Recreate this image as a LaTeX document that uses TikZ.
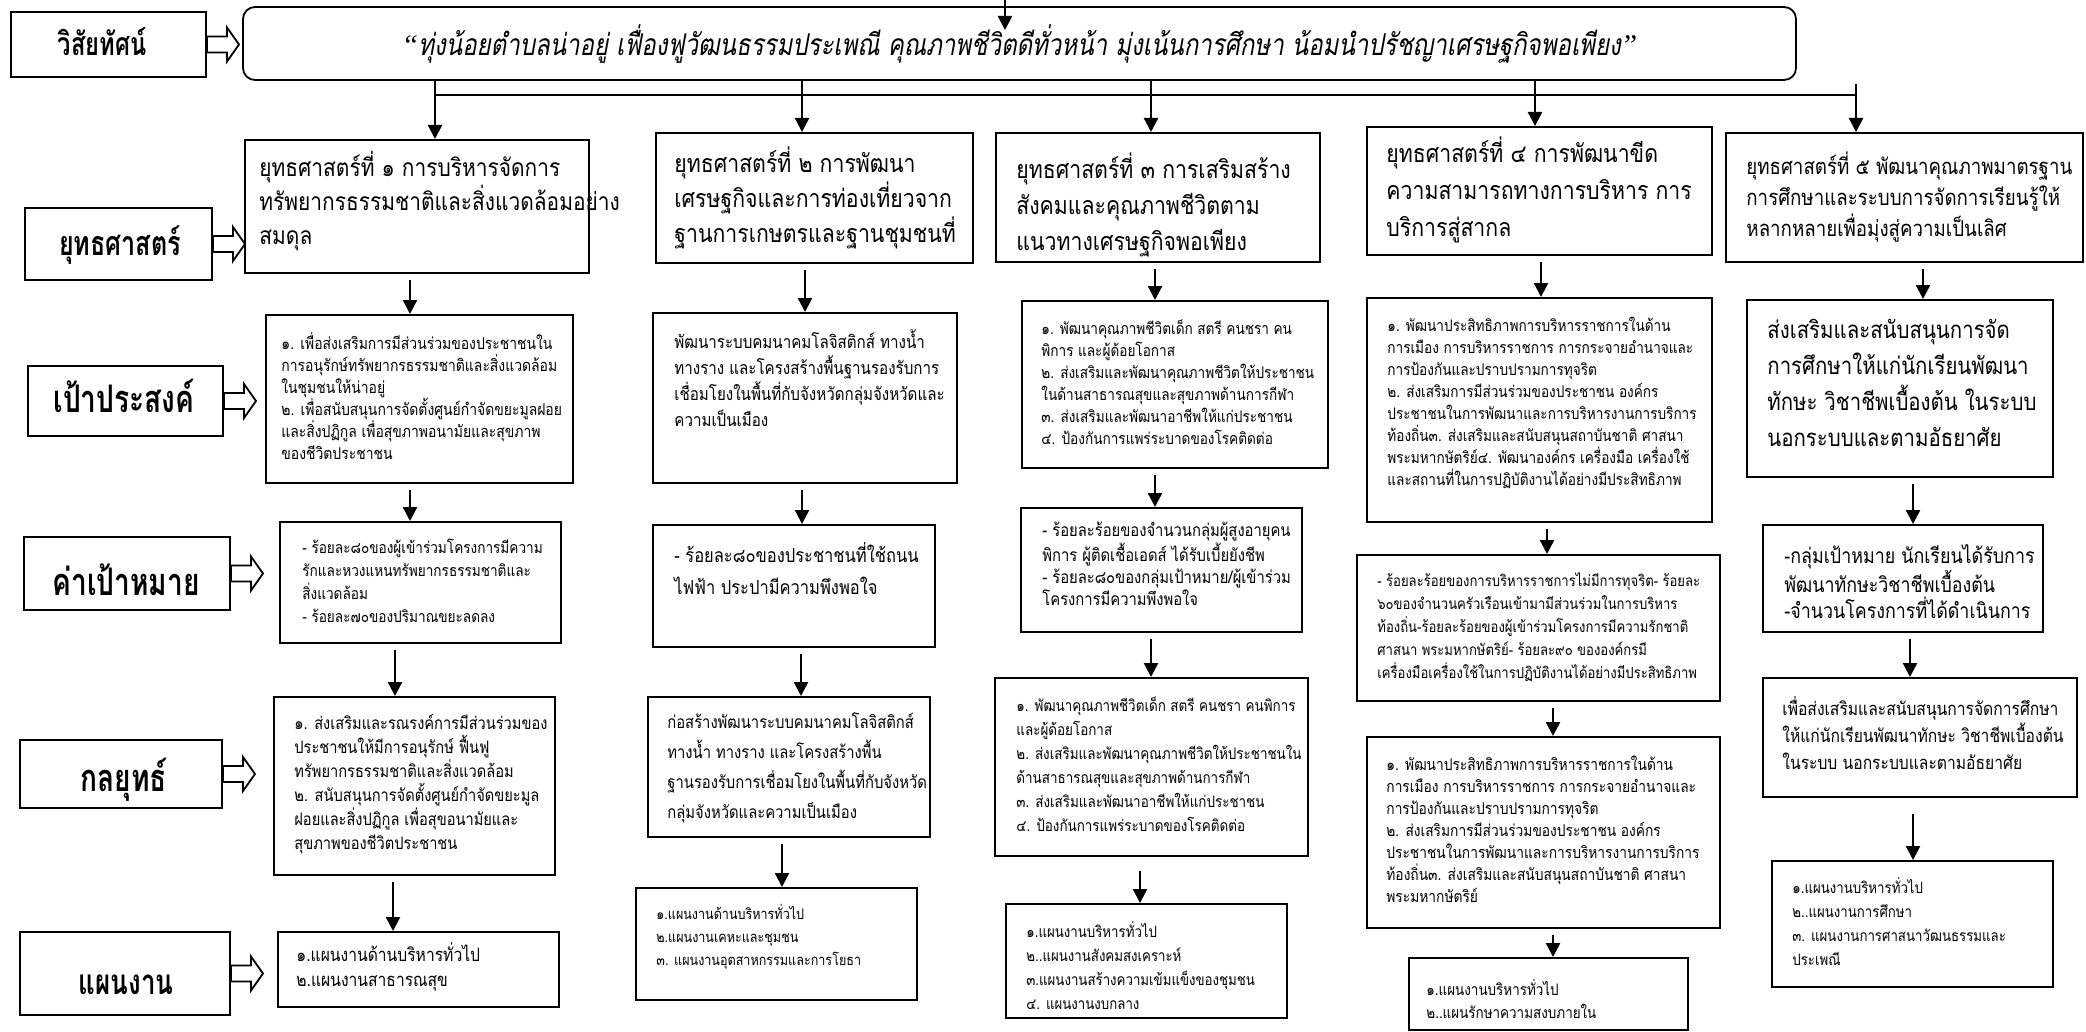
\documentclass[tikz,border=0pt]{standalone}
\usepackage{fontspec}
\usetikzlibrary{arrows.meta,fit}
\newfontfamily\thai[Script=Thai,FakeStretch=0.85]{Loma}
\newfontfamily\thail[Script=Thai,FakeStretch=0.74]{Loma}
\newfontfamily\thaisl[Script=Thai,FakeStretch=0.8,FakeSlant=0.18]{Loma}
\newfontfamily\qf{Liberation Serif}
\tikzset{
  bx/.style={draw,line width=1pt,inner sep=0pt},
  lt/.style={anchor=base,inner sep=0pt,font=\thail\bfseries\fontsize{#1}{22}\selectfont},
  ts/.style 2 args={anchor=north west,inner sep=0pt,align=left,font=\thai\fontsize{#1}{#2}\selectfont},
  arr/.style={line width=1.2pt,-{Triangle[length=7pt,width=7pt]}},
  ln/.style={line width=1.1pt},
  hol/.style={line width=0.9pt,fill=white,line join=miter},
}
\newcommand\harrow[1]{\draw[hol] (#1.east) ++(0,-8) -- ++(20,0) -- ++(0,-9) -- ++(12,17) -- ++(-12,17) -- ++(0,-9) -- ++(-20,0) -- cycle;}
\newcommand\vlink[4][3]{\coordinate (vx) at (#4,0); \draw[arr,shorten <=#1pt] (#2.south -| vx) -- (#3.north -| vx);}
\begin{document}
\begin{tikzpicture}[x=0.5pt,y=-0.5pt]
\useasboundingbox (0,0) rectangle (2086,1032);
\fill[white] (0,0) rectangle (2086,1032);

% left labels
\node[bx,fit={(11,12)(206,77)}] (LV) {};
\node[bx,fit={(25,208)(212,280)}] (LS) {};
\node[bx,fit={(28,366)(223,436)}] (LG) {};
\node[bx,fit={(24,537)(230,610)}] (LT) {};
\node[bx,fit={(20,740)(222,808)}] (LSt) {};
\node[bx,fit={(20,932)(230,1015)}] (LP) {};
\node[lt=16] (LVt) at (102,56) {วิสัยทัศน์};
\node[lt=17] (LSt1) at (120,256) {ยุทธศาสตร์};
\node[lt=19] (LGt) at (124,412) {เป้าประสงค์};
\node[lt=19] (LTt) at (126,595) {ค่าเป้าหมาย};
\node[lt=19] (LStt) at (124,791) {กลยุทธ์};
\node[lt=17.5] (LPt) at (126,994) {แผนงาน};

% vision
\node[bx,line width=0.9pt,rounded corners=6pt,fit={(243,7)(1796,80)}] (V) {};
\node[font=\thaisl\fontsize{15}{18}\selectfont,inner sep=0pt] (VT) at (V.center) {{\qf\itshape “}ทุ่งน้อยตำบลน่าอยู่ เฟื่องฟูวัฒนธรรมประเพณี คุณภาพชีวิตดีทั่วหน้า มุ่งเน้นการศึกษา น้อมนำปรัชญาเศรษฐกิจพอเพียง{\qf\itshape ”}};

\harrow{LV}\harrow{LS}\harrow{LG}\harrow{LT}\harrow{LSt}\harrow{LP}

% strategy boxes
\node[bx,fit={(245,140)(589,273)}] (S1) {};
\node[bx,fit={(656,133)(973,263)}] (S2) {};
\node[bx,fit={(996,133)(1320,262)}] (S3) {};
\node[bx,fit={(1367,127)(1712,255)}] (S4) {};
\node[bx,fit={(1726,133)(2083,262)}] (S5) {};
\node[ts={12.3}{17}] (S1t) at ([shift={(15,12)}]S1.north west) {ยุทธศาสตร์ที่ ๑ การบริหารจัดการ\\ทรัพยากรธรรมชาติและสิ่งแวดล้อมอย่าง\\สมดุล};
\node[ts={12.5}{17.5}] (S2t) at ([shift={(19,14)}]S2.north west) {ยุทธศาสตร์ที่ ๒ การพัฒนา\\เศรษฐกิจและการท่องเที่ยวจาก\\ฐานการเกษตรและฐานชุมชนที่};
\node[ts={12.5}{18}] (S3t) at ([shift={(21,20)}]S3.north west) {ยุทธศาสตร์ที่ ๓ การเสริมสร้าง\\สังคมและคุณภาพชีวิตตาม\\แนวทางเศรษฐกิจพอเพียง};
\node[ts={12.5}{18.5}] (S4t) at ([shift={(20,10)}]S4.north west) {ยุทธศาสตร์ที่ ๔ การพัฒนาขีด\\ความสามารถทางการบริหาร การ\\บริการสู่สากล};
\node[ts={11}{15.5}] (S5t) at ([shift={(21,19)}]S5.north west) {ยุทธศาสตร์ที่ ๕ พัฒนาคุณภาพมาตรฐาน\\การศึกษาและระบบการจัดการเรียนรู้ให้\\หลากหลายเพื่อมุ่งสู่ความเป็นเลิศ};

% goal boxes
\node[bx,fit={(266,315)(573,483)}] (G1) {};
\node[bx,fit={(653,313)(957,483)}] (G2) {};
\node[bx,fit={(1022,301)(1328,468)}] (G3) {};
\node[bx,fit={(1367,298)(1712,522)}] (G4) {};
\node[bx,fit={(1747,300)(2053,477)}] (G5) {};
\node[ts={8.2}{11}] (G1t) at ([shift={(16,18)}]G1.north west) {๑. เพื่อส่งเสริมการมีส่วนร่วมของประชาชนใน\\การอนุรักษ์ทรัพยากรธรรมชาติและสิ่งแวดล้อม\\ในชุมชนให้น่าอยู่\\๒. เพื่อสนับสนุนการจัดตั้งศูนย์กำจัดขยะมูลฝอย\\และสิ่งปฏิกูล เพื่อสุขภาพอนามัยและสุขภาพ\\ของชีวิตประชาชน};
\node[ts={8.9}{13}] (G2t) at ([shift={(22,17)}]G2.north west) {พัฒนาระบบคมนาคมโลจิสติกส์ ทางน้ำ\\ทางราง และโครงสร้างพื้นฐานรองรับการ\\เชื่อมโยงในพื้นที่กับจังหวัดกลุ่มจังหวัดและ\\ความเป็นเมือง};
\node[ts={8}{11}] (G3t) at ([shift={(20,19)}]G3.north west) {๑. พัฒนาคุณภาพชีวิตเด็ก สตรี คนชรา คน\\พิการ และผู้ด้อยโอกาส\\๒. ส่งเสริมและพัฒนาคุณภาพชีวิตให้ประชาชน\\ในด้านสาธารณสุขและสุขภาพด้านการกีฬา\\๓. ส่งเสริมและพัฒนาอาชีพให้แก่ประชาชน\\๔. ป้องกันการแพร่ระบาดของโรคติดต่อ};
\node[ts={8}{11}] (G4t) at ([shift={(21,20)}]G4.north west) {๑. พัฒนาประสิทธิภาพการบริหารราชการในด้าน\\การเมือง การบริหารราชการ การกระจายอำนาจและ\\การป้องกันและปราบปรามการทุจริต\\๒. ส่งเสริมการมีส่วนร่วมของประชาชน องค์กร\\ประชาชนในการพัฒนาและการบริหารงานการบริการ\\ท้องถิ่น๓. ส่งเสริมและสนับสนุนสถาบันชาติ ศาสนา\\พระมหากษัตริย์๔. พัฒนาองค์กร เครื่องมือ เครื่องใช้\\และสถานที่ในการปฏิบัติงานได้อย่างมีประสิทธิภาพ};
\node[ts={12}{18}] (G5t) at ([shift={(21,20)}]G5.north west) {ส่งเสริมและสนับสนุนการจัด\\การศึกษาให้แก่นักเรียนพัฒนา\\ทักษะ วิชาชีพเบื้องต้น ในระบบ\\นอกระบบและตามอัธยาศัย};

% target boxes
\node[bx,fit={(280,522)(561,643)}] (T1) {};
\node[bx,fit={(653,525)(935,647)}] (T2) {};
\node[bx,fit={(1021,508)(1302,632)}] (T3) {};
\node[bx,fit={(1357,555)(1720,701)}] (T4) {};
\node[bx,fit={(1763,525)(2043,632)}] (T5) {};
\node[ts={8}{11.5}] (T1t) at ([shift={(23,18)}]T1.north west) {- ร้อยละ๘๐ของผู้เข้าร่วมโครงการมีความ\\รักและหวงแหนทรัพยากรธรรมชาติและ\\สิ่งแวดล้อม\\- ร้อยละ๗๐ของปริมาณขยะลดลง};
\node[ts={9.7}{16}] (T2t) at ([shift={(22,18)}]T2.north west) {- ร้อยละ๘๐ของประชาชนที่ใช้ถนน\\ไฟฟ้า ประปามีความพึงพอใจ};
\node[ts={8.7}{11}] (T3t) at ([shift={(22,15)}]T3.north west) {- ร้อยละร้อยของจำนวนกลุ่มผู้สูงอายุคน\\พิการ ผู้ติดเชื้อเอดส์ ได้รับเบี้ยยังชีพ\\- ร้อยละ๘๐ของกลุ่มเป้าหมาย/ผู้เข้าร่วม\\โครงการมีความพึงพอใจ};
\node[ts={7.7}{11.5}] (T4t) at ([shift={(21,18)}]T4.north west) {- ร้อยละร้อยของการบริหารราชการไม่มีการทุจริต- ร้อยละ\\๖๐ของจำนวนครัวเรือนเข้ามามีส่วนร่วมในการบริหาร\\ท้องถิ่น-ร้อยละร้อยของผู้เข้าร่วมโครงการมีความรักชาติ\\ศาสนา พระมหากษัตริย์- ร้อยละ๙๐ ขององค์กรมี\\เครื่องมือเครื่องใช้ในการปฏิบัติงานได้อย่างมีประสิทธิภาพ};
\node[ts={10.5}{13}] (T5t) at ([shift={(22,20)}]T5.north west) {-กลุ่มเป้าหมาย นักเรียนได้รับการ\\พัฒนาทักษะวิชาชีพเบื้องต้น\\-จำนวนโครงการที่ได้ดำเนินการ};

% tactic boxes
\node[bx,fit={(274,697)(555,875)}] (St1) {};
\node[bx,fit={(648,697)(930,837)}] (St2) {};
\node[bx,fit={(995,678)(1308,856)}] (St3) {};
\node[bx,fit={(1367,737)(1720,928)}] (St4) {};
\node[bx,fit={(1763,678)(2077,797)}] (St5) {};
\node[ts={8.6}{12}] (St1t) at ([shift={(21,18)}]St1.north west) {๑. ส่งเสริมและรณรงค์การมีส่วนร่วมของ\\ประชาชนให้มีการอนุรักษ์ ฟื้นฟู\\ทรัพยากรธรรมชาติและสิ่งแวดล้อม\\๒. สนับสนุนการจัดตั้งศูนย์กำจัดขยะมูล\\ฝอยและสิ่งปฏิกูล เพื่อสุขอนามัยและ\\สุขภาพของชีวิตประชาชน};
\node[ts={8.7}{15}] (St2t) at ([shift={(20,16)}]St2.north west) {ก่อสร้างพัฒนาระบบคมนาคมโลจิสติกส์\\ทางน้ำ ทางราง และโครงสร้างพื้น\\ฐานรองรับการเชื่อมโยงในพื้นที่กับจังหวัด\\กลุ่มจังหวัดและความเป็นเมือง};
\node[ts={7.9}{12}] (St3t) at ([shift={(22,19)}]St3.north west) {๑. พัฒนาคุณภาพชีวิตเด็ก สตรี คนชรา คนพิการ\\และผู้ด้อยโอกาส\\๒. ส่งเสริมและพัฒนาคุณภาพชีวิตให้ประชาชนใน\\ด้านสาธารณสุขและสุขภาพด้านการกีฬา\\๓. ส่งเสริมและพัฒนาอาชีพให้แก่ประชาชน\\๔. ป้องกันการแพร่ระบาดของโรคติดต่อ};
\node[ts={8.1}{11}] (St4t) at ([shift={(20,20)}]St4.north west) {๑. พัฒนาประสิทธิภาพการบริหารราชการในด้าน\\การเมือง การบริหารราชการ การกระจายอำนาจและ\\การป้องกันและปราบปรามการทุจริต\\๒. ส่งเสริมการมีส่วนร่วมของประชาชน องค์กร\\ประชาชนในการพัฒนาและการบริหารงานการบริการ\\ท้องถิ่น๓. ส่งเสริมและสนับสนุนสถาบันชาติ ศาสนา\\พระมหากษัตริย์};
\node[ts={9.2}{13.5}] (St5t) at ([shift={(20,19)}]St5.north west) {เพื่อส่งเสริมและสนับสนุนการจัดการศึกษา\\ให้แก่นักเรียนพัฒนาทักษะ วิชาชีพเบื้องต้น\\ในระบบ นอกระบบและตามอัธยาศัย};

% plan boxes
\node[bx,fit={(278,932)(559,1007)}] (P1) {};
\node[bx,fit={(636,888)(917,1000)}] (P2) {};
\node[bx,fit={(1006,904)(1287,1018)}] (P3) {};
\node[bx,fit={(1409,958)(1688,1030)}] (P4) {};
\node[bx,fit={(1772,861)(2053,987)}] (P5) {};
\node[ts={9.2}{12.5}] (P1t) at ([shift={(19,11)}]P1.north west) {๑.แผนงานด้านบริหารทั่วไป\\๒.แผนงานสาธารณสุข};
\node[ts={7.4}{11.5}] (P2t) at ([shift={(21,17)}]P2.north west) {๑.แผนงานด้านบริหารทั่วไป\\๒.แผนงานเคหะและชุมชน\\๓. แผนงานอุตสาหกรรมและการโยธา};
\node[ts={7.8}{12}] (P3t) at ([shift={(21,18)}]P3.north west) {๑.แผนงานบริหารทั่วไป\\ ๒..แผนงานสังคมสงเคราะห์\\ ๓.แผนงานสร้างความเข้มแข็งของชุมชน\\ ๔. แผนงานงบกลาง};
\node[ts={7.9}{11.5}] (P4t) at ([shift={(18,22)}]P4.north west) {๑.แผนงานบริหารทั่วไป\\๒..แผนรักษาความสงบภายใน};
\node[ts={7.8}{12}] (P5t) at ([shift={(21,17)}]P5.north west) {๑.แผนงานบริหารทั่วไป\\๒..แผนงานการศึกษา\\๓. แผนงานการศาสนาวัฒนธรรมและ\\ประเพณี};

% top arrow and bus
\coordinate (top0) at (1005,0);
\coordinate (top1) at (1005,30);
\draw[arr] (top0) -- (top1);
\coordinate (b1) at (435,95);
\coordinate (b2) at (802,95);
\coordinate (b3) at (1151,95);
\coordinate (b4) at (1535,95);
\coordinate (b5) at (1856,95);
\coordinate (b5t) at (1856,84);
\draw[ln] (V.south -| b1) -- (b1);
\draw[ln] (V.south -| b2) -- (b2);
\draw[ln] (V.south -| b3) -- (b3);
\draw[ln] (V.south -| b4) -- (b4);
\draw[ln] (b1) -- (b5);
\draw[ln] (b5t) -- (b5);
\draw[arr] (b1) -- (S1.north -| b1);
\draw[arr] (b2) -- (S2.north -| b2);
\draw[arr] (b3) -- (S3.north -| b3);
\draw[arr] (b4) -- (S4.north -| b4);
\draw[arr] (b5) -- (S5.north -| b5);

% column arrows
\vlink{S1}{G1}{410}\vlink{G1}{T1}{410}\vlink{T1}{St1}{395}\vlink{St1}{P1}{393}
\vlink{S2}{G2}{805}\vlink{G2}{T2}{802}\vlink{T2}{St2}{801}\vlink{St2}{P2}{782}
\vlink{S3}{G3}{1155}\vlink{G3}{T3}{1155}\vlink{T3}{St3}{1151}\vlink[7]{St3}{P3}{1140}
\vlink{S4}{G4}{1541}\vlink{G4}{T4}{1547}\vlink{T4}{St4}{1553}\vlink{St4}{P4}{1553}
\vlink{S5}{G5}{1923}\vlink{G5}{T5}{1913}\vlink{T5}{St5}{1910}\vlink[8]{St5}{P5}{1913}
\end{tikzpicture}
\end{document}
